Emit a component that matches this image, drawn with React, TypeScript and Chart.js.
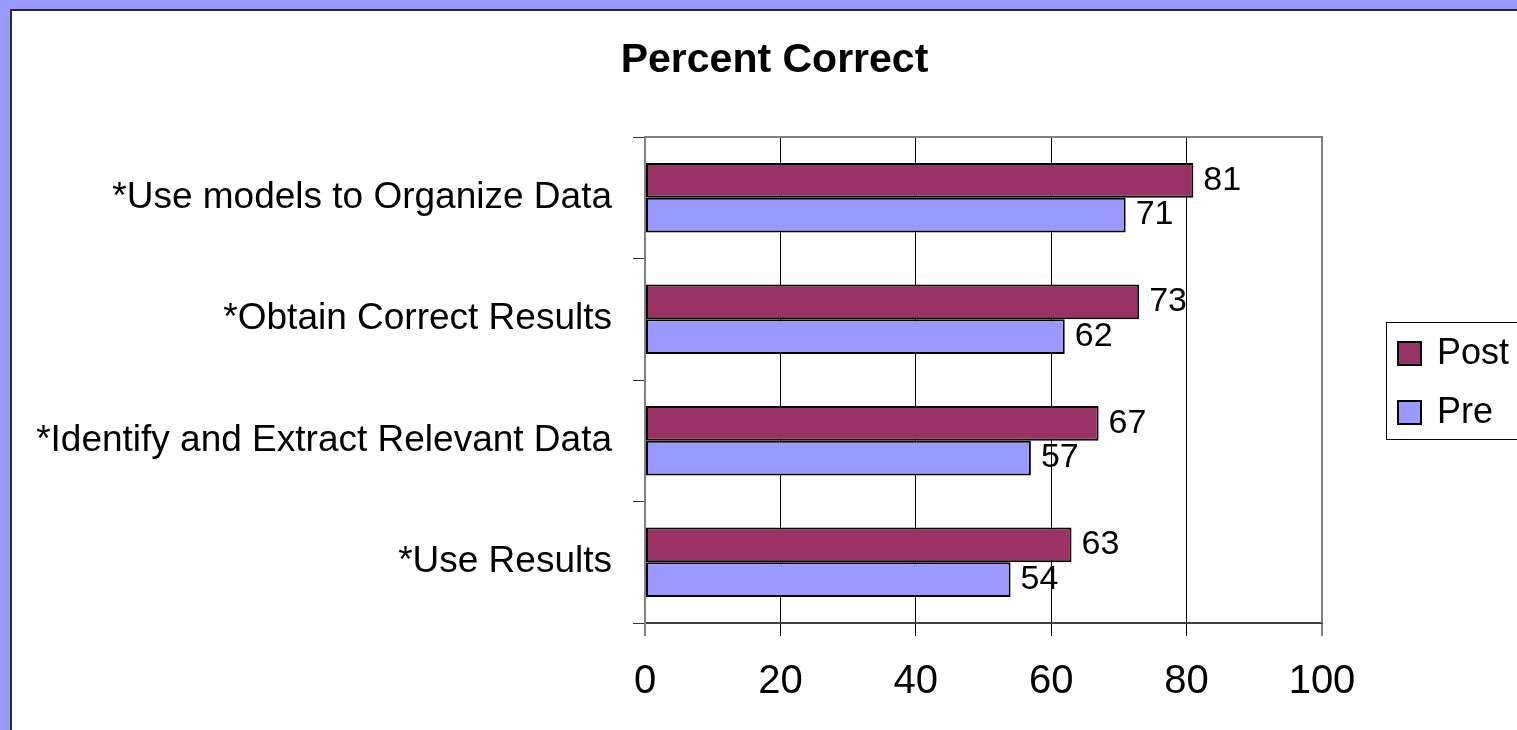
import React, { useEffect, useRef } from "react";
import { Chart, registerables } from "chart.js";

Chart.register(...registerables);

const categories = [
  "*Use models to Organize Data",
  "*Obtain Correct Results",
  "*Identify and Extract Relevant Data",
  "*Use Results",
];
const seriesLabels = ["Post", "Pre"];
const postValues = [81, 73, 67, 63];
const preValues = [71, 62, 57, 54];
const seriesColors = ["#993366", "#9999FF"];
const xMin = 0;
const xMax = 100;
const xStep = 20;
const chartTitle = "Percent Correct";

const FONT = "'Liberation Sans', Arial, Helvetica, sans-serif";

export default function App() {
  const ref = useRef<HTMLCanvasElement | null>(null);

  useEffect(() => {
    const canvas = ref.current;
    if (!canvas) return;

    const framePlugin = {
      id: "frame",
      beforeDraw(chart: any) {
        const { ctx, width, height } = chart;
        ctx.save();
        ctx.fillStyle = "#9999FF";
        ctx.fillRect(0, 0, width, height);
        ctx.fillStyle = "#ffffff";
        ctx.fillRect(10, 9, width - 10, height - 9);
        ctx.fillStyle = "#2a2a2a";
        ctx.fillRect(10, 9, width - 10, 2);
        ctx.fillRect(10, 9, 2, height - 9);
        ctx.restore();
      },
      beforeDatasetsDraw(chart: any) {
        const { ctx, chartArea } = chart;
        ctx.save();
        ctx.strokeStyle = "#808080";
        ctx.lineWidth = 2;
        ctx.beginPath();
        ctx.moveTo(chartArea.left, chartArea.top);
        ctx.lineTo(chartArea.right, chartArea.top);
        ctx.lineTo(chartArea.right, chartArea.bottom);
        ctx.stroke();
        ctx.restore();
      },
      afterDatasetsDraw(chart: any) {
        const { ctx } = chart;
        ctx.save();
        ctx.font = `34px ${FONT}`;
        ctx.fillStyle = "#000";
        ctx.textAlign = "left";
        ctx.textBaseline = "middle";
        chart.data.datasets.forEach((ds: any, i: number) => {
          const meta = chart.getDatasetMeta(i);
          meta.data.forEach((el: any, j: number) => {
            ctx.fillText(String(ds.data[j]), el.x + 10, el.y);
          });
        });
        ctx.restore();
      },
      afterDraw(chart: any) {
        const { ctx, chartArea } = chart;
        const left = chartArea.right + 64;
        const top = 322;
        const boxW = 200;
        const boxH = 117;
        ctx.save();
        ctx.fillStyle = "#fff";
        ctx.fillRect(left, top, boxW, boxH);
        ctx.strokeStyle = "#000";
        ctx.lineWidth = 1;
        ctx.strokeRect(left + 0.5, top + 0.5, boxW, boxH);
        ctx.font = `36px ${FONT}`;
        ctx.textBaseline = "middle";
        ctx.textAlign = "left";
        seriesLabels.forEach((label, i) => {
          const cy = top + 31.5 + i * 59;
          const sq = 23;
          const sx = left + 12;
          ctx.fillStyle = seriesColors[i];
          ctx.fillRect(sx, cy - sq / 2, sq, sq);
          ctx.strokeStyle = "#000";
          ctx.lineWidth = 2;
          ctx.strokeRect(sx, cy - sq / 2, sq, sq);
          ctx.fillStyle = "#000";
          ctx.fillText(label, sx + sq + 16, cy + 1);
        });
        ctx.restore();
      },
    };

    const chart = new Chart(canvas, {
      type: "bar",
      data: {
        labels: categories,
        datasets: [
          {
            label: seriesLabels[0],
            data: postValues,
            backgroundColor: seriesColors[0],
            borderColor: "#000",
            borderWidth: 2,
            borderSkipped: false,
            categoryPercentage: 0.571,
            barPercentage: 1,
          },
          {
            label: seriesLabels[1],
            data: preValues,
            backgroundColor: seriesColors[1],
            borderColor: "#000",
            borderWidth: 2,
            borderSkipped: false,
            categoryPercentage: 0.571,
            barPercentage: 1,
          },
        ],
      },
      options: {
        indexAxis: "y",
        responsive: false,
        animation: false,
        devicePixelRatio: 1,
        layout: { padding: { left: 32, right: 0, top: 0, bottom: 0 } },
        plugins: {
          legend: { display: false },
          tooltip: { enabled: false },
          title: {
            display: true,
            text: chartTitle,
            color: "#000",
            font: { family: FONT, size: 41, weight: "bold", lineHeight: 1.2 },
            padding: { top: 36.4, bottom: 51.4 },
          },
        },
        scales: {
          x: {
            type: "linear",
            position: "bottom",
            min: xMin,
            max: xMax,
            ticks: {
              stepSize: xStep,
              autoSkip: false,
              color: "#000",
              font: { family: FONT, size: 40 },
              padding: 22,
              maxRotation: 0,
            },
            grid: {
              color: (ctx: any) =>
                ctx.tick && (ctx.tick.value === xMin || ctx.tick.value === xMax) ? "#808080" : "#000",
              lineWidth: (ctx: any) =>
                ctx.tick && (ctx.tick.value === xMin || ctx.tick.value === xMax) ? 2 : 1,
              tickLength: 13,
              drawOnChartArea: true,
              drawTicks: true,
            },
            border: { display: true, color: "#404040", width: 2 },
            afterFit(scale: any) {
              scale.height = 107;
            },
          },
          y: {
            type: "category",
            position: "left",
            ticks: {
              autoSkip: false,
              color: "#000",
              font: { family: FONT, size: 37 },
              padding: 21,
            },
            grid: {
              offset: true,
              drawOnChartArea: false,
              drawTicks: true,
              tickLength: 12,
              color: "#333",
              lineWidth: 1,
            },
            border: { display: true, color: "#808080", width: 2 },
            afterFit(scale: any) {
              scale.width = 613;
            },
          },
          legendSpace: {
            type: "category",
            position: "right",
            display: true,
            labels: [""],
            ticks: { display: false },
            grid: { display: false, drawTicks: false },
            border: { display: false },
            afterFit(scale: any) {
              scale.width = 195;
            },
          },
        },
      },
      plugins: [framePlugin],
    } as any);

    return () => chart.destroy();
  }, []);

  return (
    <div style={{ position: "fixed", left: 0, top: 0, width: 1517, height: 730 }}>
      <canvas ref={ref} width={1517} height={730} style={{ display: "block" }} />
    </div>
  );
}
